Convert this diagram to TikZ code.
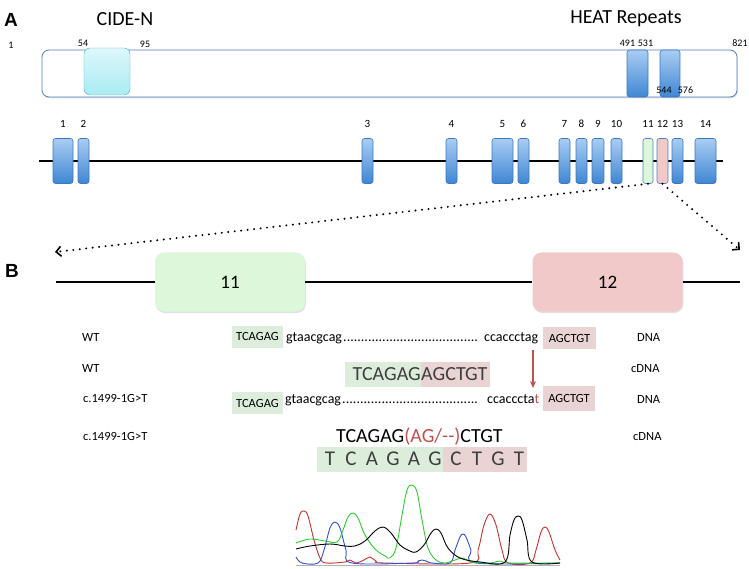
\documentclass[tikz,border=0pt]{standalone}
\usepackage{fontspec}
\setmainfont{Carlito}
\newfontfamily\headfont{Liberation Sans}
\usetikzlibrary{positioning,arrows.meta,shadows}

\definecolor{protblue}{HTML}{4F81BD}
\definecolor{exontop}{HTML}{A9CDF3}
\definecolor{exonbot}{HTML}{3F86D3}
\definecolor{exonline}{HTML}{3B78C2}
\definecolor{cidetop}{HTML}{DDF8FB}
\definecolor{cidebot}{HTML}{A9EBF3}
\definecolor{cideline}{HTML}{4BACC6}
\definecolor{exgreen}{HTML}{DDF7DA}
\definecolor{expink}{HTML}{F2C9C9}
\definecolor{hlgreen}{HTML}{DCEEDB}
\definecolor{hlpink}{HTML}{E9D3D3}
\definecolor{mutred}{HTML}{C0504D}
\definecolor{seqgray}{HTML}{3F3F3F}
\definecolor{trred}{HTML}{C8302C}
\definecolor{trblue}{HTML}{2F50D8}
\definecolor{trgreen}{HTML}{2ECC2E}

\newcommand\dotrun[1]{\hbox to #1{\xleaders\hbox{.}\hfill}}

\begin{document}
\begin{tikzpicture}[x=1pt,y=-1pt,
  exon/.style={draw=exonline,top color=exontop,bottom color=exonbot,rounded corners=2.5pt,
               minimum height=45pt,inner sep=0pt,line width=0.6pt},
  exonA/.style={exon,draw=protblue,top color=exgreen,bottom color=exgreen},
  exonB/.style={exon,draw=protblue,top color=expink,bottom color=expink},
  exlbl/.style={font=\fontsize{11}{13}\selectfont},
  pnum/.style={font=\fontsize{10}{12}\selectfont,inner sep=0pt},
  dom/.style={font=\fontsize{20}{24}\selectfont},
  panel/.style={font=\headfont\bfseries\fontsize{19}{22}\selectfont},
  rowlbl/.style={font=\fontsize{12.5}{15}\selectfont,anchor=base west,inner sep=0pt},
  caps/.style={font=\fontsize{12.5}{14}\selectfont,inner sep=0pt,anchor=base west},
  low/.style={font=\fontsize{14}{16}\selectfont,inner sep=0pt,anchor=base west},
  big/.style={font=\fontsize{20}{24}\selectfont,inner sep=0pt},
  hlg/.style={fill=hlgreen,inner sep=0pt,minimum height=22pt},
  hlp/.style={fill=hlpink,inner sep=0pt,minimum height=22pt},
  bigbox/.style={rounded corners=9pt,minimum width=150pt,minimum height=59pt,
                 font=\fontsize{19}{22}\selectfont,
                 drop shadow={shadow xshift=0.8pt,shadow yshift=-1.5pt,opacity=0.25}},
  bline/.style={line width=2pt},
  dotarrow/.style={line width=2.2pt,dash pattern=on 0pt off 6.5pt,line cap=round,
                   -{Straight Barb[line width=1.6pt,length=5pt,width=10pt]}},
  >={Stealth[length=7pt,width=6pt]}
]
\useasboundingbox (0,0) rectangle (749,569);

%% ===== PANEL A: protein and gene =====
\node[panel] (pA) at (11,20) {A};
\node[dom] (cidelbl) at (125,19) {CIDE-N};
\node[dom] (heatlbl) at (626,19) {HEAT Repeats};

% protein bar with domains
\node[draw=protblue,fill=white,line width=0.8pt,rounded corners=7pt,inner sep=0pt,
      minimum width=695pt,minimum height=47pt,
      drop shadow={shadow xshift=0.8pt,shadow yshift=-1.5pt,opacity=0.25}] (prot) at (389.5,73.5) {};
\node[draw=cideline,top color=cidetop,bottom color=cidebot,rounded corners=6pt,inner sep=0pt,
      minimum width=46pt,minimum height=47pt] (cide) at (107,71.5) {};
\node[exon,minimum width=21pt,minimum height=47pt] (heat1) at (637.5,73.5) {};
\node[exon,minimum width=20pt,minimum height=47pt] (heat2) at (670,73.5) {};

% residue numbers
\node[pnum] (n1) at (11,45) {1};
\node[pnum] (n54) at (83,43) {54};
\node[pnum] (n95) at (145,44) {95};
\node[pnum] (n491) at (627.5,43) {491};
\node[pnum] (n531) at (645.5,43) {531};
\node[pnum] (n821) at (740,43) {821};
\node[pnum] (n544) at (664,90) {544};
\node[pnum] (n576) at (685.5,90) {576};

% gene with 14 exons
\coordinate (gl) at (39,161);
\coordinate (gr) at (723,161);
\draw[line width=1.8pt] (gl) -- (gr);
\foreach \xa/\xb/\n/\sty in {53/73/1/exon,78/89/2/exon,362/373/3/exon,446/457/4/exon,
    492/513/5/exon,518/529/6/exon,559/570/7/exon,576/587/8/exon,592/604/9/exon,
    611/622/10/exon,643/653/11/exonA,657/668/12/exonB,672/683/13/exon,695/716/14/exon}
  \node[\sty,minimum width={(\xb-\xa)*1pt},label={[exlbl,label distance=7pt]above:\n}]
    (e\n) at ({(\xa+\xb)/2},161) {};

% zoom arrows
\coordinate (lft) at (55,252);
\coordinate (rgt) at (740,250);
\draw[dotarrow] (e11.south) -- (lft);
\draw[dotarrow] (e12.south) -- (rgt);

%% ===== PANEL B: exons 11 and 12 =====
\node[panel] (pB) at (12,271) {B};
\coordinate (bl) at (56,282);
\coordinate (br) at (740,282);
\node[bigbox,fill=exgreen] (b11) at (230,282) {11};
\node[bigbox,fill=expink] (b12) at (607.5,282) {12};
\draw[bline] (bl) -- (b11.west);
\draw[bline] (b11.east) -- (b12.west);
\draw[bline] (b12.east) -- (br);

% row 1: WT DNA
\node[rowlbl] (w1) at (82,341) {WT};
\node[hlg,caps,anchor=center,minimum width=51pt] (r1a) at (257.5,336.5) {TCAGAG};
\node[low] (r1b) at (286,341) {gtaacgcag};
\node[low] (r1c) at (343,341) {\dotrun{135pt}};
\node[low] (r1d) at (484,341) {ccaccctag};
\node[hlp,caps,anchor=center,minimum width=53pt] (r1e) at (569.5,338) {AGCTGT};
\node[rowlbl] (t1) at (637,341) {DNA};

% row 2: WT cDNA
\node[rowlbl] (w2) at (82,372) {WT};
\node[hlg,big,anchor=east,minimum height=25pt,text width=76pt,align=right,text=seqgray] (r2a) at (421,374.5) {TCAGAG};
\node[hlp,big,right=0pt of r2a,minimum height=25pt,text width=69pt,align=left,text=seqgray] (r2b) {AGCTGT};
\node[rowlbl] (t2) at (631,372) {cDNA};

% mutation arrow
\coordinate (mtop) at (533,350);
\coordinate (mbot) at (533,388);
\draw[->,mutred,line width=1.5pt] (mtop) -- (mbot);

% row 3: mutant DNA
\node[rowlbl] (w3) at (83,402) {c.1499-1G>T};
\node[hlg,caps,anchor=center,minimum width=51pt] (r3a) at (257.5,403) {TCAGAG};
\node[low] (r3b) at (285,403) {gtaacgcag};
\node[low] (r3c) at (342,403) {\dotrun{136pt}};
\node[low] (r3d) at (487,403) {ccacccta\textcolor{mutred}{t}};
\node[hlp,caps,anchor=center,minimum width=52pt,minimum height=25pt] (r3e) at (569,398) {AGCTGT};
\node[rowlbl] (t3) at (637,403) {DNA};

% row 4: mutant cDNA
\node[rowlbl] (w4) at (83,440) {c.1499-1G>T};
\node[big,anchor=base west] (r4a) at (336,442) {TCAGAG\textcolor{mutred}{(AG/-{}-)}CTGT};
\node[rowlbl] (t4) at (633,440) {cDNA};

% sequencing read
\node[hlg,minimum width=126pt,minimum height=25pt] (s5a) at (380,459.5) {};
\node[hlp,minimum width=84pt,minimum height=25pt] (s5b) at (485,459.5) {};
\foreach \c [count=\i from 0] in {T,C,A,G,A,G,C,T,G,T}
  \node[font=\fontsize{21}{24}\selectfont,text=seqgray,inner sep=0pt] (s\i) at ({330+21*\i},458.5) {\c};

%% ===== chromatogram =====
\draw[gray!60,line width=1pt] (296,565) -- (560,565);
\draw[trred,line width=0.9pt] plot[smooth,tension=0.6] coordinates {(296,530) (300,514) (304,511) (308,516) (314,540) (320,558) (326,563) (345,562) (350,560) (356,563) (364,560) (370,557) (376,561) (385,563) (470,563) (478,550) (484,525) (490,514) (496,525) (502,550) (508,563) (530,563) (536,550) (541,532) (545,527) (549,532) (555,550) (560,560)};
\draw[trblue,line width=0.9pt] plot[smooth,tension=0.6] coordinates {(296,557) (302,563) (318,563) (324,550) (330,528) (335,522) (340,528) (346,550) (352,563) (412,563) (418,561) (422,560) (426,561) (432,563) (450,563) (455,550) (460,537) (463,534) (466,537) (471,550) (476,563) (560,563)};
\draw[trgreen,line width=0.9pt] plot[smooth,tension=0.6] coordinates {(296,543) (310,539) (325,541) (337,542) (343,530) (348,517) (353,513) (358,518) (365,535) (375,549) (385,556) (390,558) (396,548) (402,515) (407,490) (412,485) (417,492) (422,520) (428,548) (436,560) (445,563) (455,560) (463,558) (472,562) (490,563) (500,561) (510,563) (560,563)};
\draw[black,line width=0.9pt] plot[smooth,tension=0.6] coordinates {(296,549) (310,546) (330,544) (345,546) (355,546) (365,541) (375,531) (383,527) (391,533) (400,545) (410,551) (416,552) (424,545) (431,533) (436,529) (441,533) (448,548) (460,558) (480,562) (505,562) (510,535) (514,520) (518,516) (522,520) (527,540) (532,562) (560,563)};

\end{tikzpicture}
\end{document}
